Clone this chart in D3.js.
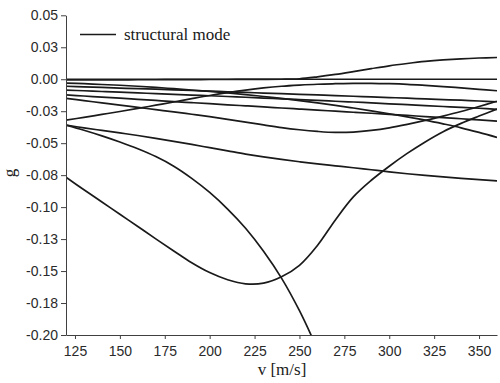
<!DOCTYPE html>
<html>
<head>
<meta charset="utf-8">
<script src="https://cdn.jsdelivr.net/npm/d3@7"></script>
<style>
  body { margin: 0; background: #fff; }
  svg { display: block; }
  .axis text { font-family: "Liberation Sans", Arial, sans-serif; font-size: 14px; fill: #2a2a2a; }
  .axis path, .axis line { stroke: #404040; stroke-width: 1; }
  .lbl { font-family: "Liberation Serif", "Times New Roman", serif; font-size: 17px; fill: #1a1a1a; }
</style>
</head>
<body>
<svg id="chart" width="500" height="383"></svg>
<script>
// velocity samples [m/s]
var velocity = [120,130,140,150,160,170,180,190,200,210,220,230,240,250,260,270,280,290,300,310,320,330,340,350,360];

// damping g of each structural mode
var modeRising = [-0.0006,-0.0006,-0.0005,-0.0005,-0.0004,-0.0004,-0.0003,-0.0003,-0.0002,-0.0002,-0.0001,-0.0001,0.0000,0.0004,0.0019,0.0038,0.0060,0.0083,0.0105,0.0123,0.0139,0.0151,0.0160,0.0166,0.0170];
var modeFlat   = [0,0,0,0,0,0,0,0,0,0,0,0,0,0,0,0,0,0,0,0,0,0,0,0,0];
var modeE = [-0.0055,-0.0060,-0.0064,-0.0069,-0.0074,-0.0078,-0.0083,-0.0088,-0.0093,-0.0098,-0.0103,-0.0108,-0.0113,-0.0118,-0.0123,-0.0128,-0.0133,-0.0138,-0.0143,-0.0148,-0.0154,-0.0159,-0.0164,-0.0170,-0.0176];
var modeF = [-0.0085,-0.0090,-0.0096,-0.0101,-0.0107,-0.0112,-0.0118,-0.0124,-0.0129,-0.0135,-0.0141,-0.0147,-0.0153,-0.0159,-0.0165,-0.0172,-0.0178,-0.0185,-0.0192,-0.0199,-0.0206,-0.0213,-0.0220,-0.0227,-0.0235];
var modeG = [-0.0030,-0.0035,-0.0041,-0.0047,-0.0055,-0.0064,-0.0074,-0.0084,-0.0095,-0.0107,-0.0120,-0.0135,-0.0150,-0.0167,-0.0185,-0.0204,-0.0225,-0.0247,-0.0270,-0.0294,-0.0320,-0.0349,-0.0380,-0.0416,-0.0455];
var modeH = [-0.0123,-0.0131,-0.0140,-0.0148,-0.0157,-0.0166,-0.0175,-0.0183,-0.0191,-0.0200,-0.0208,-0.0216,-0.0225,-0.0233,-0.0241,-0.0250,-0.0258,-0.0266,-0.0275,-0.0283,-0.0292,-0.0300,-0.0309,-0.0318,-0.0327];
var modeDip = [-0.0149,-0.0167,-0.0185,-0.0203,-0.0220,-0.0238,-0.0255,-0.0274,-0.0293,-0.0314,-0.0336,-0.0357,-0.0378,-0.0395,-0.0408,-0.0416,-0.0413,-0.0400,-0.0380,-0.0353,-0.0322,-0.0288,-0.0252,-0.0213,-0.0172];
var modeHump = [-0.0320,-0.0298,-0.0275,-0.0252,-0.0228,-0.0203,-0.0178,-0.0152,-0.0127,-0.0105,-0.0085,-0.0068,-0.0055,-0.0046,-0.0039,-0.0035,-0.0032,-0.0032,-0.0035,-0.0040,-0.0048,-0.0057,-0.0068,-0.0079,-0.0090];
var modeGentle = [-0.0359,-0.0380,-0.0400,-0.0420,-0.0440,-0.0462,-0.0486,-0.0510,-0.0535,-0.0560,-0.0585,-0.0607,-0.0627,-0.0645,-0.0662,-0.0677,-0.0692,-0.0708,-0.0724,-0.0739,-0.0752,-0.0764,-0.0775,-0.0785,-0.0795];
var modeFalling = [-0.0359,-0.0399,-0.0443,-0.0491,-0.0544,-0.0605,-0.0680,-0.0775,-0.0885,-0.1015,-0.1165,-0.1345,-0.1555,-0.1810,-0.2110,null,null,null,null,null,null,null,null,null,null];
var modeValley = [-0.0767,-0.0864,-0.0960,-0.1056,-0.1152,-0.1248,-0.1343,-0.1435,-0.1512,-0.1568,-0.1600,-0.1595,-0.1545,-0.1455,-0.1300,-0.1100,-0.0920,-0.0790,-0.0680,-0.0580,-0.0490,-0.0410,-0.0345,-0.0288,-0.0233];

var modes = [modeRising, modeFlat, modeE, modeF, modeG, modeH, modeDip, modeHump, modeGentle, modeFalling, modeValley];

// axis ticks
var xTicks = [125,150,175,200,225,250,275,300,325,350];
var yTicks = [0.05,0.025,0,-0.025,-0.05,-0.075,-0.1,-0.125,-0.15,-0.175,-0.2];
var yTickLabels = ["0.05","0.03","0.00","-0.03","-0.05","-0.08","-0.10","-0.13","-0.15","-0.18","-0.20"];

var margin = {top: 15.3, right: 3, bottom: 48, left: 66}
  , width = 500 - margin.left - margin.right
  , height = 383 - margin.top - margin.bottom;

var svg = d3.select("svg#chart");
var g = svg.append("g")
    .attr("transform", "translate(" + margin.left + "," + margin.top + ")");

var xScale = d3.scaleLinear().domain([120, 360]).range([0, width]);
var yScale = d3.scaleLinear().domain([-0.2, 0.05]).range([height, 0]);

// clip so the falling mode leaves through the bottom
g.append("clipPath").attr("id", "plotClip")
  .append("rect").attr("x", 0).attr("y", 0).attr("width", width).attr("height", height);

var line = d3.line()
    .defined(function(d) { return d != null; })
    .x(function(d, i) { return xScale(velocity[i]); })
    .y(function(d) { return yScale(d); })
    .curve(d3.curveCatmullRom.alpha(0.5));

g.append("g").attr("clip-path", "url(#plotClip)")
  .selectAll("path")
  .data(modes)
  .enter().append("path")
    .attr("fill", "none")
    .attr("stroke", "#1a1a1a")
    .attr("stroke-width", 1.7)
    .attr("stroke-linejoin", "round")
    .attr("d", line);

// x axis
g.append("g")
    .attr("class", "axis")
    .attr("transform", "translate(0," + height + ")")
    .call(d3.axisBottom(xScale).tickValues(xTicks).tickSize(4).tickSizeOuter(0).tickPadding(7));

// y axis
g.append("g")
    .attr("class", "axis")
    .call(d3.axisLeft(yScale).tickValues(yTicks).tickSize(5).tickSizeOuter(0).tickPadding(3)
      .tickFormat(function(d, i) { return yTickLabels[i]; }));

// axis titles
svg.append("text")
    .attr("class", "lbl")
    .attr("text-anchor", "middle")
    .attr("x", 282)
    .attr("y", 375)
    .text("v [m/s]");

svg.append("text")
    .attr("class", "lbl")
    .attr("text-anchor", "middle")
    .attr("transform", "translate(15,173) rotate(-90)")
    .text("g");

// legend
svg.append("line")
    .attr("x1", 80).attr("x2", 116)
    .attr("y1", 34.5).attr("y2", 34.5)
    .attr("stroke", "#1a1a1a")
    .attr("stroke-width", 1.7);

svg.append("text")
    .attr("class", "lbl")
    .attr("x", 124)
    .attr("y", 40)
    .text("structural mode");
</script>
</body>
</html>
